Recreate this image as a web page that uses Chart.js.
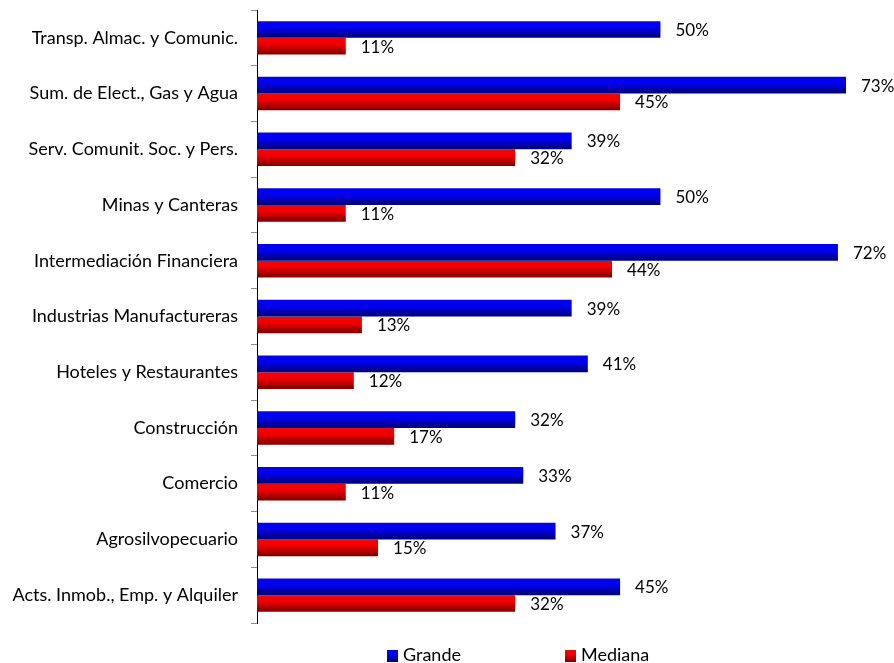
<!DOCTYPE html>
<html>
<head>
<meta charset="utf-8">
<script src="https://cdn.jsdelivr.net/npm/chart.js@4.4.0/dist/chart.umd.min.js"></script>
<style>
  html, body { margin: 0; padding: 0; background: #fff; }
  #wrap { position: relative; width: 894px; height: 663px; }
  #legend { position: absolute; top: 645px; left: 0; width: 894px; height: 18px;
            font: 18px Lato, sans-serif; color: #000; }
  .item { position: absolute; top: 0; line-height: 18px; }
  .box { display: inline-block; width: 11px; height: 12px; margin-right: 5px; vertical-align: -1px; }
</style>
</head>
<body>
<div id="wrap">
  <canvas id="chart" width="894" height="663"></canvas>
  <div id="legend"></div>
</div>
<script>
const categories = [
    'Transp. Almac. y Comunic.',
    'Sum. de Elect., Gas y Agua',
    'Serv. Comunit. Soc. y Pers.',
    'Minas y Canteras',
    'Intermediación Financiera',
    'Industrias Manufactureras',
    'Hoteles y Restaurantes',
    'Construcción',
    'Comercio',
    'Agrosilvopecuario',
    'Acts. Inmob., Emp. y Alquiler'
];
const grande = [50, 73, 39, 50, 72, 39, 41, 32, 33, 37, 45];
const mediana = [11, 45, 32, 11, 44, 13, 12, 17, 11, 15, 32];
const seriesNames = ['Grande', 'Mediana'];

const FONT = 'Lato, sans-serif';
const CAT_PCT = 0.6;

// top -> bottom colour stops for each series
const shades = [
    [[0, '#0000ff'], [0.4, '#0000ec'], [1, '#000068']],
    [[0, '#ff0000'], [0.4, '#ec0000'], [1, '#740000']]
];

function barFill(c) {
    const chart = c.chart;
    const y = chart.scales.y;
    const stops = shades[c.datasetIndex];
    if (c.dataIndex === undefined || !y || !chart.chartArea) return stops[1][1];
    const catH = (y.bottom - y.top) / categories.length;
    const barH = catH * CAT_PCT / 2;
    const center = y.getPixelForValue(c.dataIndex);
    const top = c.datasetIndex === 0 ? center - barH : center;
    const g = chart.ctx.createLinearGradient(0, top, 0, top + barH);
    stops.forEach(s => g.addColorStop(s[0], s[1]));
    return g;
}

// percentage text to the right of each bar
const valueLabels = {
    id: 'valueLabels',
    afterDatasetsDraw(chart) {
        const ctx = chart.ctx;
        ctx.save();
        ctx.font = '17px ' + FONT;
        ctx.fillStyle = '#000';
        ctx.textAlign = 'left';
        ctx.textBaseline = 'middle';
        chart.data.datasets.forEach((ds, di) => {
            chart.getDatasetMeta(di).data.forEach((bar, i) => {
                ctx.fillText(ds.data[i] + '%', bar.x + 15, bar.y + 1);
            });
        });
        ctx.restore();
    }
};

new Chart(document.getElementById('chart'), {
    type: 'bar',
    data: {
        labels: categories,
        datasets: [
            { label: seriesNames[0], data: grande, backgroundColor: barFill },
            { label: seriesNames[1], data: mediana, backgroundColor: barFill }
        ]
    },
    options: {
        indexAxis: 'y',
        responsive: false,
        animation: false,
        categoryPercentage: CAT_PCT,
        barPercentage: 1,
        layout: { padding: { top: 10, bottom: 40, right: 2, left: 0 } },
        plugins: { legend: { display: false }, tooltip: { enabled: false } },
        scales: {
            x: { display: false, min: 0, max: 78.7 },
            y: {
                afterFit(scale) {
                    scale.width = 257;
                    scale.paddingTop = 0;
                    scale.paddingBottom = 0;
                },
                grid: { drawOnChartArea: false, drawTicks: true, tickLength: 6, color: '#8c8c8c', offset: true },
                border: { color: '#000', width: 1 },
                ticks: { color: '#000', padding: 13, font: { family: FONT, size: 18 } }
            }
        }
    },
    plugins: [valueLabels]
});

// legend under the plot
const legend = document.getElementById('legend');
const legendX = [387, 565];
seriesNames.forEach((name, i) => {
    const el = document.createElement('span');
    el.className = 'item';
    el.style.left = legendX[i] + 'px';
    const box = document.createElement('span');
    box.className = 'box';
    box.style.background = `linear-gradient(${shades[i][0][1]}, ${shades[i][1][1]} 40%, ${shades[i][2][1]})`;
    el.appendChild(box);
    el.appendChild(document.createTextNode(name));
    legend.appendChild(el);
});
</script>
</body>
</html>
